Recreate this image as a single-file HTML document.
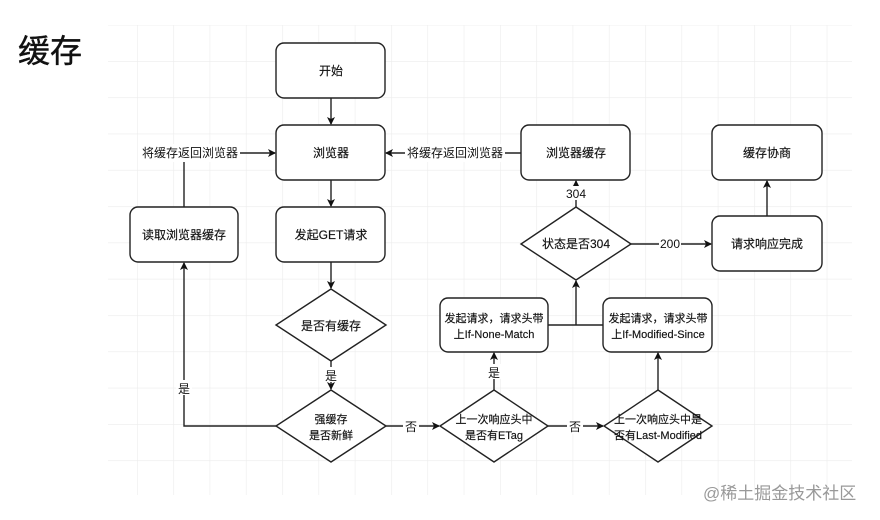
<!DOCTYPE html>
<html><head><meta charset="utf-8"><style>
html,body{margin:0;padding:0;background:#fff}
body{width:880px;height:520px;overflow:hidden;position:relative}
</style></head><body>
<svg width="880" height="520" xmlns="http://www.w3.org/2000/svg" style="position:absolute;left:0;top:0">
<defs>
<pattern id="g" x="137" y="61" width="36.3" height="36.3" patternUnits="userSpaceOnUse">
<path d="M0 0H36.3M0 0V36.3" stroke="#ececec" stroke-width="1.2" fill="none"/>
</pattern>
<marker id="a" markerWidth="8" markerHeight="8" refX="7" refY="4" orient="auto" markerUnits="userSpaceOnUse">
<path d="M0 0L8 4L0 8L2 4Z" fill="#111"/>
</marker>
</defs>
<rect x="108" y="25" width="744" height="470" fill="url(#g)"/>
<text x="18" y="62" font-family="Liberation Sans, Noto Sans CJK SC, sans-serif" font-size="32" fill="#111" stroke="#111" stroke-width="0.4">缓存</text>
<g fill="#fff" stroke="#222" stroke-width="1.4">
<rect x="276" y="43" width="109" height="55" rx="8"/>
<rect x="276" y="125" width="109" height="55" rx="8"/>
<rect x="276" y="207" width="109" height="55" rx="8"/>
<rect x="130" y="207" width="108" height="55" rx="8"/>
<rect x="521" y="125" width="109" height="55" rx="8"/>
<rect x="712" y="125" width="110" height="55" rx="8"/>
<rect x="712" y="216" width="110" height="55" rx="8"/>
<rect x="440" y="298" width="108" height="54" rx="8"/>
<rect x="603" y="298" width="109" height="54" rx="8"/>
<path d="M331 289L386 325L331 361L276 325Z"/>
<path d="M331 390L386 426L331 462L276 426Z"/>
<path d="M494 390L548 426L494 462L440 426Z"/>
<path d="M658 390L712 426L658 462L604 426Z"/>
<path d="M576 207L631 244L576 280L521 244Z"/>
</g>
<g stroke="#222" stroke-width="1.4" fill="none">
<path d="M331 98V124" marker-end="url(#a)"/>
<path d="M331 180V206" marker-end="url(#a)"/>
<path d="M331 262V288" marker-end="url(#a)"/>
<path d="M331 361V389" marker-end="url(#a)"/>
<path d="M276 426H184V263" marker-end="url(#a)"/>
<path d="M184 207V153H275" marker-end="url(#a)"/>
<path d="M386 426H439" marker-end="url(#a)"/>
<path d="M548 426H603" marker-end="url(#a)"/>
<path d="M494 390V353" marker-end="url(#a)"/>
<path d="M658 390V353" marker-end="url(#a)"/>
<path d="M548 325H603"/>
<path d="M576 325V281" marker-end="url(#a)"/>
<path d="M576 207V181" marker-end="url(#a)"/>
<path d="M521 153H386" marker-end="url(#a)"/>
<path d="M631 244H711" marker-end="url(#a)"/>
<path d="M767 216V181" marker-end="url(#a)"/>
</g>
<g font-family="Liberation Sans, Noto Sans CJK SC, sans-serif" font-size="12" fill="#111" text-anchor="middle" stroke="#111" stroke-width="0.15">
<text x="331" y="75">开始</text>
<text x="331" y="157">浏览器</text>
<text x="331" y="239">发起GET请求</text>
<text x="184" y="239">读取浏览器缓存</text>
<text x="576" y="157">浏览器缓存</text>
<text x="767" y="157">缓存协商</text>
<text x="767" y="248">请求响应完成</text>
<text x="331" y="330">是否有缓存</text>
<text x="576" y="248">状态是否304</text>
<g font-size="11">
<text x="494" y="322">发起请求，请求头带</text>
<text x="494" y="338">上If-None-Match</text>
<text x="658" y="322">发起请求，请求头带</text>
<text x="658" y="338">上If-Modified-Since</text>
<text x="331" y="423">强缓存</text>
<text x="331" y="439">是否新鲜</text>
<text x="494" y="423">上一次响应头中</text>
<text x="494" y="439">是否有ETag</text>
<text x="658" y="423">上一次响应头中是</text>
<text x="658" y="439">否有Last-Modified</text>
</g>
</g>
<g font-family="Liberation Sans, Noto Sans CJK SC, sans-serif" font-size="12" fill="#111" text-anchor="middle">
<rect x="140" y="144" width="100" height="18" fill="#fff"/>
<text x="190" y="157">将缓存返回浏览器</text>
<rect x="405" y="144" width="100" height="18" fill="#fff"/>
<text x="455" y="157">将缓存返回浏览器</text>
<rect x="323" y="367" width="16" height="15" fill="#fff"/>
<text x="331" y="380">是</text>
<rect x="176" y="380" width="16" height="15" fill="#fff"/>
<text x="184" y="393">是</text>
<rect x="486" y="364" width="16" height="15" fill="#fff"/>
<text x="494" y="377">是</text>
<rect x="403" y="420" width="16" height="14" fill="#fff"/>
<text x="411" y="431">否</text>
<rect x="567" y="420" width="16" height="14" fill="#fff"/>
<text x="575" y="431">否</text>
<rect x="565" y="186" width="22" height="14" fill="#fff"/>
<text x="576" y="198">304</text>
<rect x="659" y="237" width="22" height="14" fill="#fff"/>
<text x="670" y="248">200</text>
</g>
<text x="703" y="499" font-family="Liberation Sans, Noto Sans CJK SC, sans-serif" font-size="17" fill="#999">@稀土掘金技术社区</text>
</svg>
</body></html>
